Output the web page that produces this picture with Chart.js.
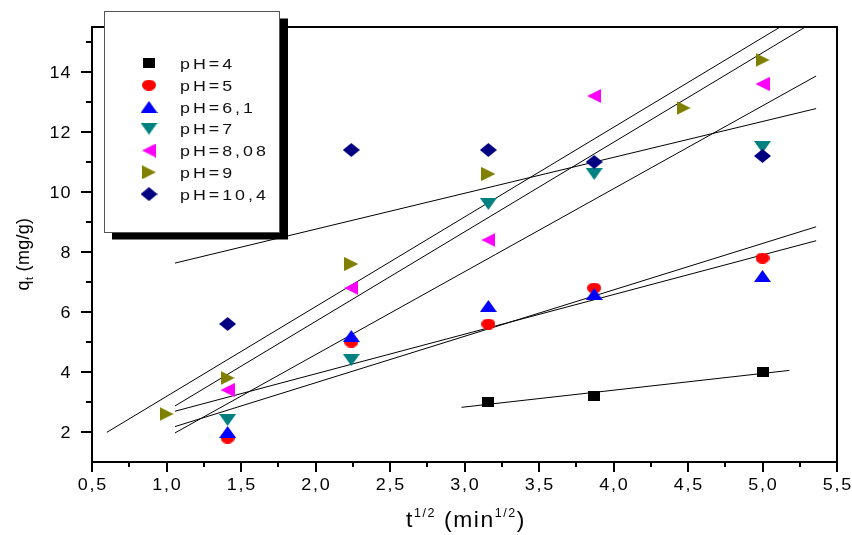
<!DOCTYPE html>
<html>
<head>
<meta charset="utf-8">
<script src="https://cdn.jsdelivr.net/npm/chart.js@4.4.1/dist/chart.umd.min.js"></script>
<style>
  html, body { margin: 0; padding: 0; background: #ffffff; }
  #wrap { width: 852px; height: 535px; position: relative; }
  canvas { display: block; }
</style>
</head>
<body>
<div id="wrap"><canvas id="chart" width="852" height="535"></canvas></div>
<script>
// ---- data: q_t (mg/g) against t^1/2 (min^1/2) for each pH ----
const seriesNames  = ['pH=4', 'pH=5', 'pH=6,1', 'pH=7', 'pH=8,08', 'pH=9', 'pH=10,4'];
const seriesColors = ['#000000', '#ff0000', '#0000ff', '#008080', '#ff00ff', '#808000', '#000080'];
const seriesShapes = ['square', 'circle', 'triUp', 'triDown', 'triLeft', 'triRight', 'diamond'];

const xPH4   = [3.16, 3.87, 5.0];
const yPH4   = [3.0, 3.2, 4.0];
const xMain  = [1.41, 2.24, 3.16, 3.87, 5.0];
const yPH5   = [1.8, 5.0, 5.6, 6.8, 7.8];
const yPH61  = [2.0, 5.2, 6.2, 6.6, 7.2];
const yPH7   = [2.4, 4.4, 9.6, 10.6, 11.5];
const yPH808 = [3.4, 6.8, 8.4, 13.2, 13.6];
const xPH9   = [1.0, 1.41, 2.24, 3.16, 4.47, 5.0];
const yPH9   = [2.6, 3.8, 7.6, 10.6, 12.8, 14.4];
const yPH104 = [5.6, 11.4, 11.4, 11.0, 11.2];

// straight-line fits per series: q = intercept + slope * x, drawn over [fitFrom, fitTo]
const fitFrom      = [2.98, 1.057, 1.057, 1.057, 1.057, 0.6, 1.057];
const fitTo        = [5.18, 5.36, 5.36, 5.36, 5.36, 5.4, 5.36];
const fitSlope     = [0.559, 1.548, 1.321, 2.765, 2.986, 2.99, 1.197];
const fitIntercept = [1.157, 0.544, 1.296, -0.953, -0.288, 0.196, 6.365];

// axis ticks
const xTicks      = [0.5, 1.0, 1.5, 2.0, 2.5, 3.0, 3.5, 4.0, 4.5, 5.0, 5.5];
const xMinorTicks = [0.75, 1.25, 1.75, 2.25, 2.75, 3.25, 3.75, 4.25, 4.75, 5.25];
const yTicks      = [2, 4, 6, 8, 10, 12, 14];
const yMinorTicks = [3, 5, 7, 9, 11, 13, 15];

const seriesX = [xPH4, xMain, xMain, xMain, xMain, xPH9, xMain];
const seriesY = [yPH4, yPH5, yPH61, yPH7, yPH808, yPH9, yPH104];

// ---- marker sprites ----
const markerSize = {
  square: [12, 10], circle: [14, 11], triUp: [17, 12], triDown: [17, 12],
  triLeft: [14, 14], triRight: [14, 14], diamond: [17, 14]
};
function makeMarker(shape, color) {
  const [w, h] = markerSize[shape];
  const c = document.createElement('canvas');
  c.width = w; c.height = h;
  const g = c.getContext('2d');
  g.fillStyle = color;
  g.beginPath();
  switch (shape) {
    case 'square':  g.rect(0, 0, w, h); break;
    case 'circle':  g.ellipse(w / 2, h / 2, w / 2, h / 2, 0, 0, Math.PI * 2); break;
    case 'triUp':   g.moveTo(w / 2, 0); g.lineTo(w, h); g.lineTo(0, h); break;
    case 'triDown': g.moveTo(0, 0); g.lineTo(w, 0); g.lineTo(w / 2, h); break;
    case 'triLeft': g.moveTo(0, h / 2); g.lineTo(w, 0); g.lineTo(w, h); break;
    case 'triRight':g.moveTo(0, 0); g.lineTo(w, h / 2); g.lineTo(0, h); break;
    case 'diamond': g.moveTo(w / 2, 0); g.lineTo(w, h / 2); g.lineTo(w / 2, h); g.lineTo(0, h / 2); break;
  }
  g.closePath();
  g.fill();
  return c;
}
const markers = seriesShapes.map((s, i) => makeMarker(s, seriesColors[i]));

// ---- datasets ----
const datasets = [];
seriesNames.forEach((name, i) => {
  datasets.push({
    label: name + ' fit',
    data: [fitFrom[i], fitTo[i]].map(x => ({ x, y: fitIntercept[i] + fitSlope[i] * x })),
    showLine: true,
    borderColor: '#000000',
    borderWidth: 1,
    pointRadius: 0,
    pointHoverRadius: 0,
    order: 100
  });
});
seriesNames.forEach((name, i) => {
  datasets.push({
    label: name,
    data: seriesX[i].map((x, k) => ({ x, y: seriesY[i][k] })),
    showLine: false,
    pointStyle: markers[i],
    pointRadius: 8,
    backgroundColor: seriesColors[i],
    borderColor: seriesColors[i],
    order: seriesNames.length - i
  });
});

const FONT = '"Liberation Sans", Arial, sans-serif';

function stretchedText(ctx, text, x, y, opts) {
  const sx = opts.sx || 1;
  ctx.save();
  ctx.font = opts.font;
  ctx.letterSpacing = (opts.spacing || 0) + 'px';
  ctx.fillStyle = opts.color || '#000';
  ctx.textBaseline = 'alphabetic';
  ctx.textAlign = 'left';
  const w = ctx.measureText(text).width - (opts.spacing || 0);
  let x0 = x;
  if (opts.align === 'center') x0 = x - (w * sx) / 2;
  else if (opts.align === 'right') x0 = x - w * sx;
  ctx.translate(x0, y);
  ctx.scale(sx, 1);
  ctx.fillText(text, 0, 0);
  ctx.restore();
  return w * sx;
}

// a title made of runs {t, size, dy}
function runsWidth(ctx, runs, sx, spacing) {
  let w = 0;
  runs.forEach(r => {
    ctx.font = r.size + 'px ' + FONT;
    ctx.letterSpacing = spacing + 'px';
    w += ctx.measureText(r.t).width * sx;
  });
  return w;
}
function drawRuns(ctx, runs, x, y, sx, spacing) {
  let cx = x;
  runs.forEach(r => {
    ctx.save();
    ctx.font = r.size + 'px ' + FONT;
    ctx.letterSpacing = spacing + 'px';
    ctx.fillStyle = '#000';
    ctx.textBaseline = 'alphabetic';
    ctx.translate(cx, y + r.dy);
    ctx.scale(sx, 1);
    ctx.fillText(r.t, 0, 0);
    const adv = ctx.measureText(r.t).width * sx;
    ctx.restore();
    cx += adv;
  });
}

const decorations = {
  id: 'decorations',
  afterDraw(chart) {
    const ctx = chart.ctx;
    const a = chart.chartArea;
    const xs = chart.scales.x, ys = chart.scales.y;

    // frame
    ctx.save();
    ctx.strokeStyle = '#000';
    ctx.lineWidth = 2;
    ctx.strokeRect(a.left, a.top, a.right - a.left, a.bottom - a.top);
    // minor ticks
    ctx.beginPath();
    xMinorTicks.forEach(v => {
      const px = Math.round(xs.getPixelForValue(v));
      ctx.moveTo(px, a.bottom); ctx.lineTo(px, a.bottom + 5);
    });
    yMinorTicks.forEach(v => {
      const py = Math.round(ys.getPixelForValue(v));
      ctx.moveTo(a.left - 6, py); ctx.lineTo(a.left, py);
    });
    ctx.stroke();
    ctx.restore();

    // tick labels
    xs.ticks.forEach(t => {
      const px = xs.getPixelForValue(t.value);
      stretchedText(ctx, t.value.toFixed(1).replace('.', ','), px, 490,
        { font: '16px ' + FONT, sx: 1.12, spacing: 1.5, align: 'center' });
    });
    ys.ticks.forEach(t => {
      const py = ys.getPixelForValue(t.value);
      stretchedText(ctx, String(t.value), 70.5, py + 5.8,
        { font: '16px ' + FONT, sx: 1.12, spacing: 1, align: 'right' });
    });

    // y title: q_t (mg/g)
    ctx.save();
    ctx.translate(29, 254);
    ctx.rotate(-Math.PI / 2);
    const yRuns = [
      { t: 'q', size: 18, dy: 0 },
      { t: 't', size: 11, dy: 4 },
      { t: ' (mg/g)', size: 18, dy: 0 }
    ];
    const yw = runsWidth(ctx, yRuns, 1, 0.3);
    drawRuns(ctx, yRuns, -yw / 2, 0, 1, 0.3);
    ctx.restore();

    // x title: t^1/2 (min^1/2)
    ctx.save();
    const xRuns = [
      { t: 't', size: 22, dy: 0 },
      { t: '1/2', size: 12, dy: -10 },
      { t: ' (min', size: 22, dy: 0 },
      { t: '1/2', size: 12, dy: -10 },
      { t: ')', size: 22, dy: 0 }
    ];
    const xw = runsWidth(ctx, xRuns, 1.04, 1.5);
    drawRuns(ctx, xRuns, 466 - xw / 2, 527, 1.04, 1.5);
    ctx.restore();

    // legend box with drop shadow
    ctx.save();
    ctx.fillStyle = '#000';
    ctx.fillRect(112, 18.5, 176, 221);
    ctx.fillStyle = '#fff';
    ctx.fillRect(104, 11, 176, 222);
    ctx.strokeStyle = '#555';
    ctx.lineWidth = 1;
    ctx.strokeRect(104.5, 11.5, 175, 221);
    ctx.restore();
    seriesNames.forEach((name, i) => {
      const cy = 63.3 + i * 21.8;
      const m = markers[i];
      ctx.drawImage(m, 149 - m.width / 2, cy - m.height / 2);
      stretchedText(ctx, name, 180, cy + 5.6,
        { font: '15.5px ' + FONT, sx: 1.15, spacing: 2.6, color: '#111' });
    });
  }
};

new Chart(document.getElementById('chart'), {
  type: 'scatter',
  data: { datasets },
  options: {
    responsive: false,
    animation: false,
    devicePixelRatio: 1,
    layout: { padding: { top: 27, right: 15, left: 0, bottom: 0 } },
    plugins: { legend: { display: false }, tooltip: { enabled: false } },
    scales: {
      x: {
        type: 'linear', min: 0.5, max: 5.5,
        afterBuildTicks: s => { s.ticks = xTicks.map(v => ({ value: v })); },
        afterFit: s => { s.height = 73; },
        grid: { drawOnChartArea: false, drawTicks: true, tickLength: 10, color: '#000', lineWidth: 2 },
        border: { display: false },
        ticks: { display: false }
      },
      y: {
        type: 'linear', min: 1, max: 15.5,
        afterBuildTicks: s => { s.ticks = yTicks.map(v => ({ value: v })); },
        afterFit: s => { s.width = 92; },
        grid: { drawOnChartArea: false, drawTicks: true, tickLength: 11, color: '#000', lineWidth: 2 },
        border: { display: false },
        ticks: { display: false }
      }
    }
  },
  plugins: [decorations]
});
</script>
</body>
</html>
